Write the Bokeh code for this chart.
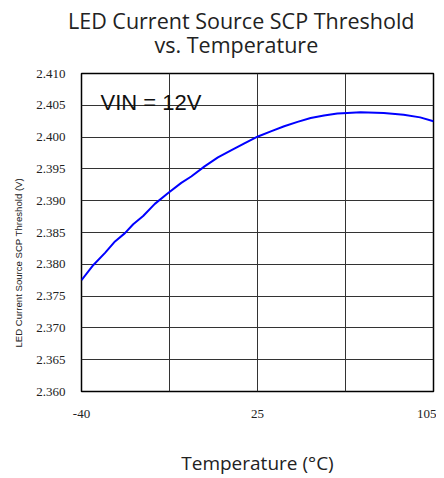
from bokeh.plotting import figure
from bokeh.models import Label, FixedTicker, Range1d, NumeralTickFormatter, Title
from bokeh.embed import file_html
from bokeh.resources import INLINE

# Data (x in axis units -40..105, y in volts)
temp = [-40, -35.1, -30.3, -26.2, -22.1, -18.7, -14.6, -9.8, -4.3, 1.1, 5.2, 10.7,
        16.2, 21.6, 27.1, 32.7, 38.0, 43.5, 49.0, 54.4, 59.9, 65.4, 69.5, 74.9,
        84.5, 92.7, 99.5, 105]
vth = [2.3775, 2.3799, 2.3818, 2.3836, 2.3849, 2.3863, 2.3876, 2.3895, 2.3912,
       2.3928, 2.3938, 2.3954, 2.3968, 2.3979, 2.3990, 2.4001, 2.4009, 2.4017,
       2.4024, 2.4030, 2.4034, 2.4037, 2.4038, 2.4039, 2.4038, 2.4035, 2.4031,
       2.4025]

x_grid = [-40, -3.75, 32.5, 68.75, 105]
x_tick_labels = {-40: "-40", -3.75: "", 32.5: "25", 68.75: "", 105: "105"}
y_ticks = [2.360, 2.365, 2.370, 2.375, 2.380, 2.385, 2.390, 2.395, 2.400, 2.405, 2.410]

title_line1 = "LED Current Source SCP Threshold"
title_line2 = "vs. Temperature"
x_label = "Temperature (°C)"
y_label = "LED Current Source SCP Threshold (V)"
note = "VIN = 12V"

p = figure(width=436, height=478, output_backend="svg", toolbar_location=None,
           x_range=Range1d(-40, 105), y_range=Range1d(2.360, 2.410),
           min_border_left=80, min_border_right=3, min_border_top=73,
           min_border_bottom=86)
p.background_fill_color = "white"
p.border_fill_color = "white"
p.outline_line_color = "black"
p.outline_line_width = 1.5

p.line(temp, vth, line_color="#0000ff", line_width=2)

p.xaxis.ticker = FixedTicker(ticks=x_grid)
p.xaxis.major_label_overrides = x_tick_labels
p.yaxis.ticker = FixedTicker(ticks=y_ticks)
p.yaxis.formatter = NumeralTickFormatter(format="0.000")
for ax in (p.xaxis, p.yaxis):
    ax.axis_line_color = None
    ax.major_tick_out = 0
    ax.major_tick_in = 0
    ax.minor_tick_out = 0
    ax.minor_tick_in = 0
    ax.major_label_text_font = "Liberation Serif"
    ax.major_label_text_font_size = "13px"
    ax.major_label_text_color = "#222222"
p.yaxis.major_label_standoff = 16
p.xaxis.major_label_standoff = 18

p.xaxis.axis_label = x_label
p.xaxis.axis_label_text_font = "Open Sans"
p.xaxis.axis_label_text_font_size = "19px"
p.xaxis.axis_label_text_font_style = "normal"
p.xaxis.axis_label_text_color = "#222222"
p.xaxis.axis_label_standoff = 29

p.xgrid.ticker = FixedTicker(ticks=x_grid)
p.ygrid.ticker = FixedTicker(ticks=y_ticks)
p.grid.grid_line_color = "#333333"
p.grid.grid_line_width = 1
p.grid.grid_line_alpha = 1.0

# Two-line title: p.title is the outer line, the added Title sits next to the frame
p.title.text = title_line1
p.title.text_font = "Open Sans"
p.title.text_font_size = "21.5px"
p.title.text_font_style = "normal"
p.title.text_color = "#222222"
p.title.align = "left"
p.title.offset = -13.5
p.title.vertical_align = "bottom"
p.title.standoff = -35
p.add_layout(Title(text=title_line2, text_font="Open Sans", text_font_size="21.5px",
                   text_font_style="normal", text_color="#222222", align="left",
                   offset=73, vertical_align="top", standoff=24.6), "above")

# Y axis label placed as a side title so its position can be matched
p.add_layout(Title(text=y_label, text_font="Liberation Sans", text_font_size="9.6px",
                   text_font_style="normal", text_color="#222222", align="left",
                   offset=44, standoff=20), "left")

p.add_layout(Label(text=note, x=19, y=289, x_units="screen", y_units="screen",
                   text_font="Liberation Sans", text_font_size="22px",
                   text_align="left", text_baseline="alphabetic",
                   text_color="#111111"))

open("out.html", "w").write(file_html(p, INLINE))
